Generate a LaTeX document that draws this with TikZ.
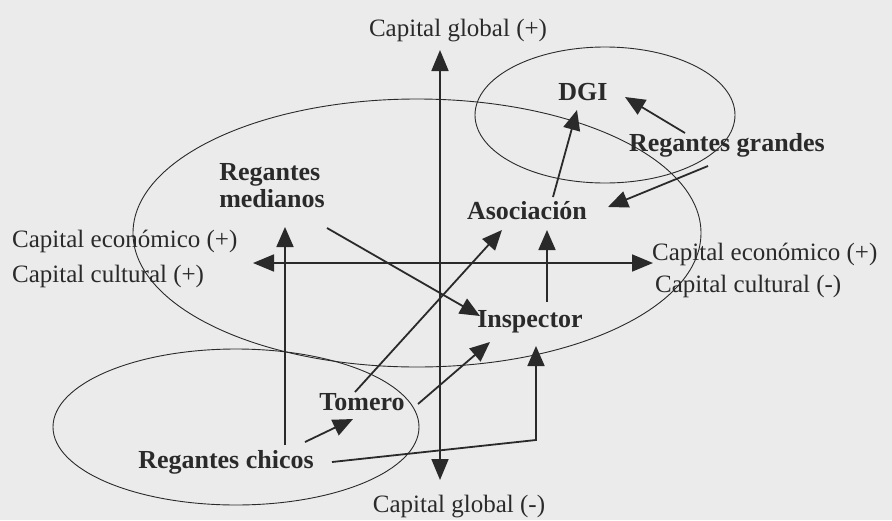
\documentclass[tikz,border=0pt]{standalone}
\usepackage{fontspec}
\setmainfont{Liberation Serif}
\usetikzlibrary{arrows.meta}
\definecolor{ink}{HTML}{2A2A2A}
\definecolor{bg}{HTML}{EBEBEB}
\begin{document}
\begin{tikzpicture}[x=1pt,y=-1pt,
 lab/.style={text=ink, font=\fontsize{25}{28}\selectfont, inner sep=0pt},
 actor/.style={text=ink, font=\fontsize{26}{27}\selectfont\bfseries, inner sep=0pt, align=left},
 arr/.style={draw=ink, line width=1.8pt, -{Triangle[length=20pt,width=17pt]}},
 axisline/.style={draw=ink, line width=1.8pt, {Triangle[length=21pt,width=17pt]}-{Triangle[length=21pt,width=17pt]}},
 oval/.style={draw=ink, line width=0.9pt}]
\fill[bg] (0,0) rectangle (892,520);
\useasboundingbox (0,0) rectangle (892,520);

% ellipses
\draw[oval] (417,233) ellipse [x radius=284pt, y radius=134pt];
\draw[oval] (605,115) ellipse [x radius=130pt, y radius=68pt];
\draw[oval] (236,427) ellipse [x radius=183pt, y radius=78pt];

% axis labels
\node[lab] (gplus) at (458,31) {Capital global (+)};
\node[lab] (gminus) at (459,507) {Capital global (-)};
\node[lab, anchor=west] (ecoL) at (12,241) {Capital económico (+)};
\node[lab, anchor=west] (culL) at (12,276) {Capital cultural (+)};
\node[lab, anchor=west] (ecoR) at (652,254) {Capital económico (+)};
\node[lab, anchor=west] (culR) at (655,286) {Capital cultural (-)};

% actors
\node[actor] (dgi) at (583,92) {DGI};
\node[actor] (rg) at (727,145) {Regantes grandes};
\node[actor] (rm) at (272,186) {Regantes\\medianos};
\node[actor] (aso) at (527,211) {Asociación};
\node[actor] (insp) at (530,322) {Inspector};
\node[actor] (tom) at (362,402) {Tomero};
\node[actor] (rc) at (226,462) {Regantes chicos};

% axes
\coordinate (gtop) at (440,50);
\coordinate (gbot) at (440,480);
\coordinate (cleft) at (253,263);
\coordinate (cright) at (653,263);
\draw[axisline] (gbot) -- (gtop);
\draw[axisline] (cleft) -- (cright);

% connector end points
\coordinate (rc-rm-a) at (285,445);
\coordinate (rc-rm-b) at (285,227);
\coordinate (rm-insp-a) at (327,228);
\coordinate (rm-insp-b) at (480,316);
\coordinate (tom-aso-a) at (355,392);
\coordinate (tom-aso-b) at (502,230);
\coordinate (tom-insp-a) at (418,404);
\coordinate (tom-insp-b) at (490,342);
\coordinate (rc-tom-a) at (305,442);
\coordinate (rc-tom-b) at (353,419);
\coordinate (rc-insp-a) at (332,462);
\coordinate (rc-insp-c) at (536,440);
\coordinate (rc-insp-b) at (536,346);
\coordinate (insp-aso-a) at (547,302);
\coordinate (insp-aso-b) at (547,230);
\coordinate (aso-dgi-a) at (553,197);
\coordinate (aso-dgi-b) at (577,110);
\coordinate (rg-dgi-a) at (685,133);
\coordinate (rg-dgi-b) at (625,97);
\coordinate (rg-aso-a) at (708,166);
\coordinate (rg-aso-b) at (608,207);

\draw[arr] (rc-rm-a) -- (rc-rm-b);
\draw[arr] (rm-insp-a) -- (rm-insp-b);
\draw[arr] (tom-aso-a) -- (tom-aso-b);
\draw[arr] (tom-insp-a) -- (tom-insp-b);
\draw[arr] (rc-tom-a) -- (rc-tom-b);
\draw[arr] (rc-insp-a) -- (rc-insp-c) -- (rc-insp-b);
\draw[arr] (insp-aso-a) -- (insp-aso-b);
\draw[arr] (aso-dgi-a) -- (aso-dgi-b);
\draw[arr] (rg-dgi-a) -- (rg-dgi-b);
\draw[arr] (rg-aso-a) -- (rg-aso-b);
\end{tikzpicture}
\end{document}
